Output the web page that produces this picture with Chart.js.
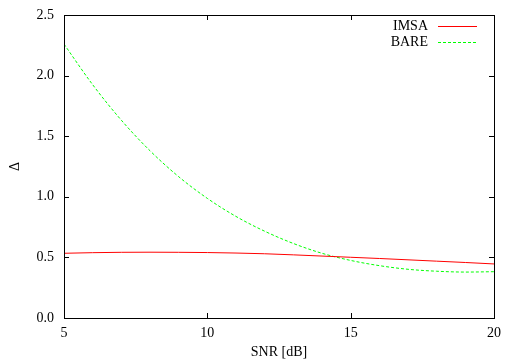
<!DOCTYPE html>
<html>
<head>
<meta charset="utf-8">
<script src="https://cdn.jsdelivr.net/npm/chart.js@4/dist/chart.umd.min.js"></script>
<style>
html,body{margin:0;padding:0;background:#fff;}
#wrap{width:506px;height:364px;position:relative;}
</style>
</head>
<body>
<div id="wrap"><canvas id="c" width="506" height="364"></canvas></div>
<script>
const snr = [5, 6, 7, 8, 9, 10, 11, 12, 13, 14, 15, 16, 17, 18, 19, 20];
const imsa = [0.534, 0.539, 0.542, 0.543, 0.542, 0.540, 0.536, 0.530, 0.521, 0.511, 0.501, 0.491, 0.480, 0.469, 0.458, 0.446];
const bare = [2.26, 1.925, 1.632, 1.380, 1.166, 0.987, 0.838, 0.716, 0.615, 0.534, 0.475, 0.432, 0.402, 0.386, 0.379, 0.382];
const xTicks = [5, 10, 15, 20];
const yTicks = [0, 0.5, 1.0, 1.5, 2.0, 2.5];
const seriesNames = ['IMSA', 'BARE'];
const seriesColors = ['#ff0000', '#00ff00'];
const xTitle = 'SNR [dB]';
const yTitle = 'Δ';

const FONT = "'Liberation Serif', 'DejaVu Serif', serif";

const toPts = (ys) => snr.map((x, i) => ({x: x, y: ys[i]}));

const framePlugin = {
  id: 'frame',
  afterDatasetsDraw(chart) {
    const {ctx, chartArea: a, scales} = chart;
    ctx.save();
    ctx.strokeStyle = '#000';
    ctx.lineWidth = 1;
    ctx.strokeRect(Math.round(a.left) + 0.5, Math.round(a.top) + 0.5, Math.round(a.right - a.left), Math.round(a.bottom - a.top));
    const L = 5;
    ctx.beginPath();
    xTicks.forEach(v => {
      const px = Math.round(scales.x.getPixelForValue(v)) + 0.5;
      ctx.moveTo(px, a.bottom); ctx.lineTo(px, a.bottom - L);
      ctx.moveTo(px, a.top); ctx.lineTo(px, a.top + L);
    });
    yTicks.forEach(v => {
      const py = Math.round(scales.y.getPixelForValue(v)) + 0.5;
      ctx.moveTo(a.left, py); ctx.lineTo(a.left + L, py);
      ctx.moveTo(a.right, py); ctx.lineTo(a.right - L, py);
    });
    ctx.stroke();
    // legend
    ctx.font = "14px " + FONT;
    ctx.textAlign = 'right';
    ctx.textBaseline = 'middle';
    chart.data.datasets.forEach((ds, i) => {
      const y = a.top + 11 + i * 16;
      ctx.fillStyle = '#000';
      ctx.fillText(ds.label, a.right - 66, y);
      ctx.strokeStyle = seriesColors[i];
      ctx.lineWidth = 1;
      ctx.setLineDash(i === 1 ? [3, 2] : []);
      ctx.beginPath();
      ctx.moveTo(a.right - 56, Math.round(y) + 0.5);
      ctx.lineTo(a.right - 17, Math.round(y) + 0.5);
      ctx.stroke();
      ctx.setLineDash([]);
    });
    ctx.restore();
  }
};

new Chart(document.getElementById('c'), {
  type: 'line',
  data: {
    datasets: [
      {label: seriesNames[0], data: toPts(imsa), borderColor: seriesColors[0], borderWidth: 1, pointRadius: 0, cubicInterpolationMode: 'monotone', fill: false},
      {label: seriesNames[1], data: toPts(bare), borderColor: seriesColors[1], borderWidth: 1, borderDash: [3, 2], pointRadius: 0, cubicInterpolationMode: 'monotone', fill: false}
    ]
  },
  options: {
    responsive: false,
    animation: false,
    events: [],
    layout: {padding: {left: 0, right: 12, top: 15, bottom: 0}},
    plugins: {legend: {display: false}, tooltip: {enabled: false}},
    scales: {
      x: {
        type: 'linear', min: 5, max: 20,
        afterFit: (s) => { s.height = 46; s.paddingLeft = 0; s.paddingRight = 0; },
        afterBuildTicks: (s) => { s.ticks = xTicks.map(v => ({value: v})); },
        grid: {display: false, drawTicks: false},
        border: {display: false},
        ticks: {color: '#000', font: {family: FONT, size: 14}, padding: 7, maxRotation: 0, callback: (v) => String(v)},
        title: {display: true, text: xTitle, color: '#000', font: {family: FONT, size: 14}, padding: {top: 0, bottom: 3}}
      },
      y: {
        type: 'linear', min: 0, max: 2.5,
        afterFit: (s) => { s.width = 64; s.paddingTop = 0; s.paddingBottom = 0; },
        afterBuildTicks: (s) => { s.ticks = yTicks.map(v => ({value: v})); },
        grid: {display: false, drawTicks: false},
        border: {display: false},
        ticks: {color: '#000', font: {family: FONT, size: 14}, padding: 10, callback: (v) => v.toFixed(1)},
        title: {display: true, text: yTitle, color: '#000', font: {family: FONT, size: 14}, padding: {top: 7, bottom: 0}}
      }
    }
  },
  plugins: [framePlugin]
});
</script>
</body>
</html>
